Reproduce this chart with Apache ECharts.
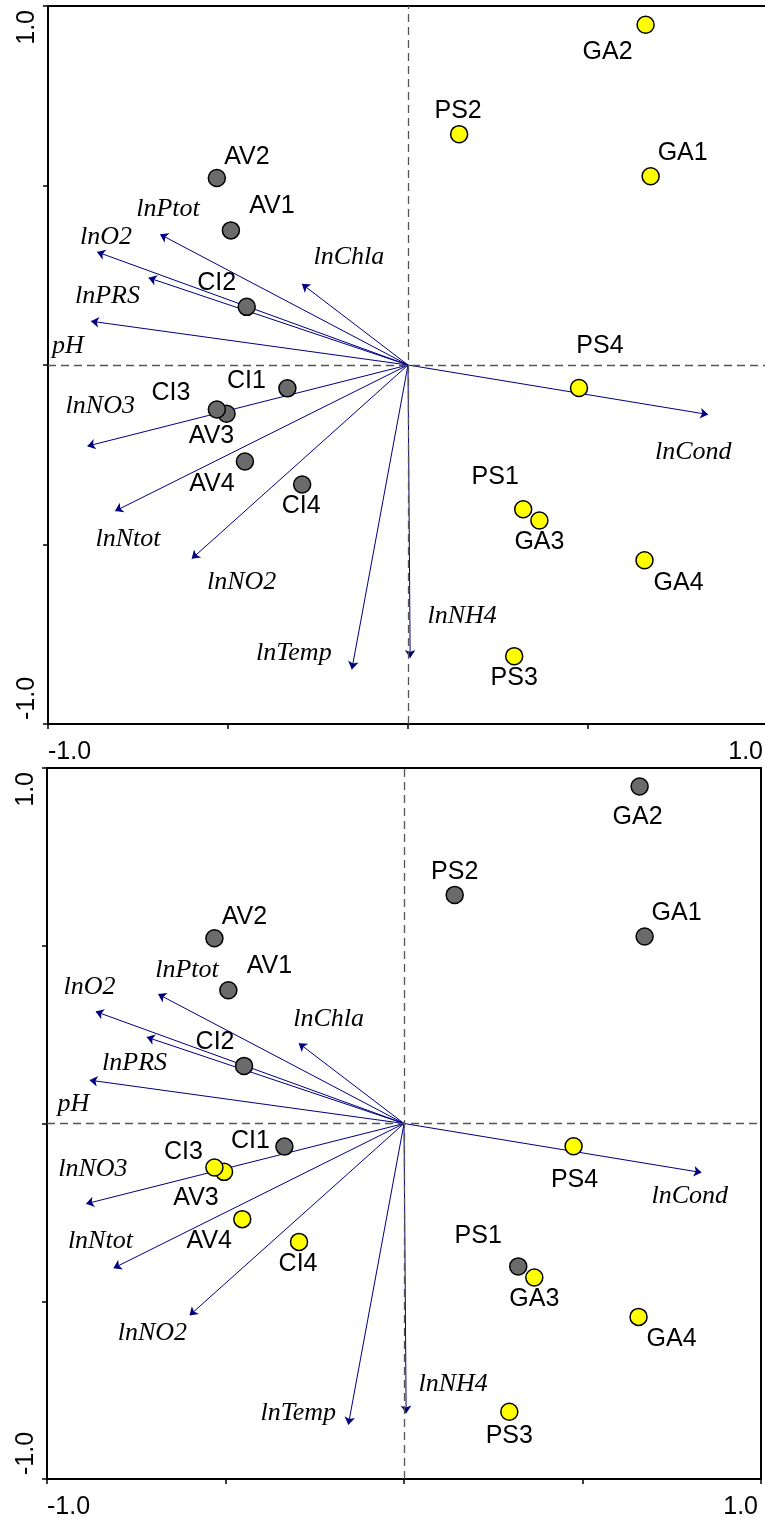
<!DOCTYPE html>
<html>
<head>
<meta charset="utf-8">
<script src="https://cdn.jsdelivr.net/npm/echarts@6/dist/echarts.min.js"></script>
<style>
html,body{margin:0;padding:0;background:#fff;}
#chart{width:765px;height:1517px;}
</style>
</head>
<body>
<div id="chart"></div>
<script>
// ---- data ----
const siteNames = ['GA2','PS2','GA1','AV2','AV1','CI2','CI1','AV3','CI3','AV4','CI4','PS4','PS1','GA3','GA4','PS3'];
const siteX = [0.660, 0.142, 0.674, -0.531, -0.492, -0.448, -0.335, -0.504, -0.531, -0.453, -0.294, 0.475, 0.320, 0.365, 0.657, 0.295];
const siteY = [0.948, 0.643, 0.526, 0.521, 0.375, 0.162, -0.065, -0.136, -0.124, -0.269, -0.333, -0.064, -0.402, -0.433, -0.544, -0.811];

const envNames = ['lnPtot','lnO2','lnChla','lnPRS','pH','lnNO3','lnNtot','lnNO2','lnTemp','lnNH4','lnCond'];
const envX = [-0.689, -0.864, -0.295, -0.721, -0.881, -0.891, -0.814, -0.601, -0.156, 0.006, 0.834];
const envY = [0.364, 0.315, 0.226, 0.243, 0.122, -0.226, -0.407, -0.540, -0.848, -0.816, -0.138];

const topYellow = ['GA2','PS2','GA1','PS4','PS1','GA3','GA4','PS3'];
const bottomYellow = ['AV3','CI3','AV4','CI4','PS4','GA3','GA4','PS3'];

const tickValues = [-1, -0.5, 0, 0.5, 1];
const tickLabels = ['-1.0', '', '', '', '1.0'];

// ---- layout (label offsets in px, relative to mark) ----
const topSiteOffsets = {
  GA2:[-38,27], PS2:[-1,-23], GA1:[32,-23], AV2:[30,-21], AV1:[41,-24], CI2:[-30,-24],
  CI1:[-41,-7], CI3:[-46,-16], AV3:[-15,22], AV4:[-33,23], CI4:[-1,22], PS4:[21,-42],
  PS1:[-28,-32], GA3:[0,22], GA4:[34,23], PS3:[0,22]
};
const bottomSiteOffsets = {
  GA2:[-2,31], PS2:[0,-23], GA1:[32,-23], AV2:[30,-21], AV1:[41,-24], CI2:[-29,-24],
  CI1:[-34,-5], CI3:[-31,-15], AV3:[-28,26], AV4:[-33,22], CI4:[-1,22], PS4:[1,34],
  PS1:[-40,-30], GA3:[0,22], GA4:[33,22], PS3:[0,24]
};
const topEnvOffsets = {
  lnPtot:[8,-25], lnO2:[9,-15], lnChla:[47,-27], lnPRS:[-41,18], pH:[-23,25], lnNO3:[13,-40],
  lnNtot:[13,28], lnNO2:[50,23], lnTemp:[-58,-16], lnNH4:[52,-42], lnCond:[-15,38]
};
const bottomEnvOffsets = {
  lnPtot:[29,-24], lnO2:[-6,-24], lnChla:[30,-24], lnPRS:[-12,26], pH:[-16,24], lnNO3:[7,-35],
  lnNtot:[-13,-27], lnNO2:[-37,18], lnTemp:[-50,-12], lnNH4:[47,-29], lnCond:[-12,24]
};

const panels = [
  {yellow: topYellow, siteOff: topSiteOffsets, envOff: topEnvOffsets, xPad:[0,5,0,0],
   grid: {left:48, top:6, width:720, height:718}},
  {yellow: bottomYellow, siteOff: bottomSiteOffsets, envOff: bottomEnvOffsets, xPad:[0,3,0,0],
   grid: {left:47, top:768, width:714, height:711}}
];

const SANS = '"Liberation Sans", Arial, sans-serif';
const SERIF = '"Liberation Serif", "Times New Roman", serif';

function tickFmt(v) {
  const i = tickValues.findIndex(t => Math.abs(t - v) < 1e-9);
  return i >= 0 ? tickLabels[i] : '';
}

const grids = [], xAxes = [], yAxes = [], series = [];
panels.forEach((p, k) => {
  grids.push(Object.assign({show:true, borderColor:'#000', borderWidth:2, backgroundColor:'#fff',
    containLabel:false, outerBoundsMode:'none'}, p.grid));
  const common = {
    gridIndex:k, type:'value', min:-1, max:1, interval:0.5,
    axisLine:{show:false, onZero:false},
    axisTick:{show:true, length:5, lineStyle:{color:'#000', width:1.5}},
    splitLine:{show:false}
  };
  xAxes.push(Object.assign({}, common, {
    position:'bottom',
    axisLabel:{formatter: tickFmt, alignMinLabel:'left', alignMaxLabel:'right', padding:p.xPad,
      fontSize:25, fontFamily:SANS, color:'#000', margin:16}
  }));
  yAxes.push(Object.assign({}, common, {
    position:'left',
    axisLabel:{formatter: tickFmt, rotate:90, alignMinLabel:'left', alignMaxLabel:'right',
      padding:[0,4,0,4], fontSize:25, fontFamily:SANS, color:'#000', margin:8}
  }));

  // zero reference lines
  series.push({
    type:'scatter', xAxisIndex:k, yAxisIndex:k, data:[], silent:true, z:1,
    markLine:{silent:true, symbol:'none', label:{show:false}, animation:false,
      lineStyle:{type:[8,5], color:'#555', width:1.3},
      data:[{xAxis:0},{yAxis:0}]}
  });
  // arrows
  series.push({
    type:'lines', coordinateSystem:'cartesian2d', xAxisIndex:k, yAxisIndex:k, z:2, silent:true,
    symbol:['none','arrow'], symbolSize:[0,8],
    lineStyle:{color:'#000080', width:1, opacity:1, curveness:0},
    data: envNames.map((n,i) => ({coords:[[0,0],[envX[i], envY[i]]]}))
  });
  // arrow labels
  series.push({
    type:'scatter', xAxisIndex:k, yAxisIndex:k, z:3, silent:true, symbol:'circle', symbolSize:1,
    itemStyle:{color:'#ffffff', opacity:1},
    label:{show:true, position:'inside', formatter:'{b}', fontFamily:SERIF, fontStyle:'italic',
      fontSize:26, color:'#000', opacity:1, textBorderWidth:0},
    data: envNames.map((n,i) => ({name:n, value:[envX[i], envY[i]], label:{offset:p.envOff[n]}}))
  });
  // sites
  const mk = (isYellow) => siteNames.map((n,i) => ({n,i}))
    .filter(o => (p.yellow.indexOf(o.n) >= 0) === isYellow)
    .map(o => ({name:o.n, value:[siteX[o.i], siteY[o.i]], label:{offset:p.siteOff[o.n]}}));
  [false, true].forEach(isY => {
    series.push({
      type:'scatter', xAxisIndex:k, yAxisIndex:k, z: isY ? 5 : 4, silent:true,
      symbol:'circle', symbolSize:17,
      itemStyle:{color: isY ? '#ffff00' : '#6b6b6b', borderColor:'#000', borderWidth:1.5, opacity:1},
      label:{show:true, position:'inside', formatter:'{b}', fontFamily:SANS, fontSize:25, color:'#000',
        textBorderWidth:0},
      data: mk(isY)
    });
  });
});

const chart = echarts.init(document.getElementById('chart'), null, {renderer:'canvas'});
chart.setOption({
  animation:false,
  backgroundColor:'#fff',
  grid: grids, xAxis: xAxes, yAxis: yAxes, series: series
});
</script>
</body>
</html>
